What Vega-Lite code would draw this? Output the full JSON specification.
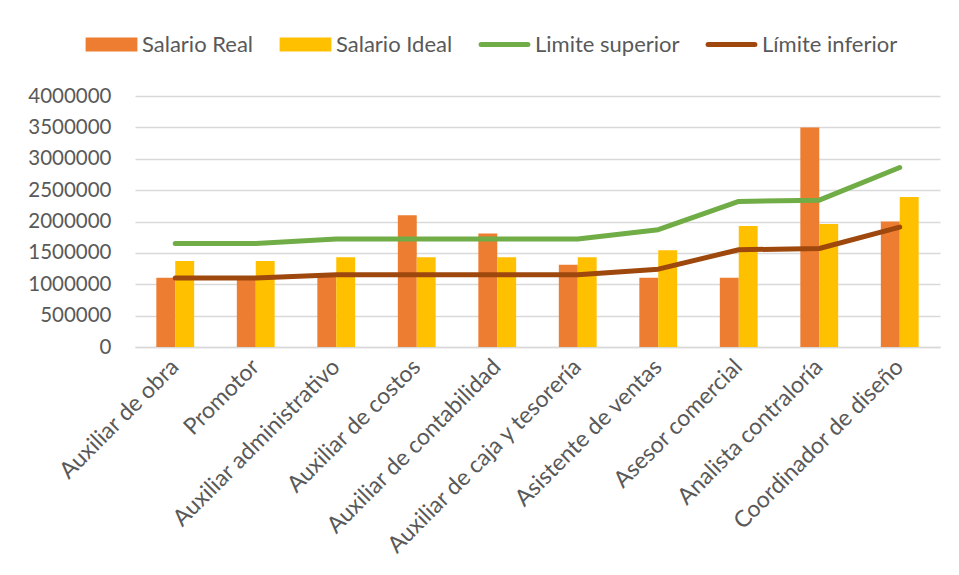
{
  "$schema": "https://vega.github.io/schema/vega-lite/v6.json",
  "width": 805,
  "height": 251,
  "autosize": {"type": "none"},
  "padding": {"left": 135, "top": 96, "right": 19, "bottom": 228},
  "background": "white",
  "config": {"view": {"stroke": null}, "font": "Lato"},
  "data": {"values": [
    {"puesto": "Auxiliar de obra", "serie": "Salario Real", "valor": 1104000},
    {"puesto": "Promotor", "serie": "Salario Real", "valor": 1104000},
    {"puesto": "Auxiliar administrativo", "serie": "Salario Real", "valor": 1150000},
    {"puesto": "Auxiliar de costos", "serie": "Salario Real", "valor": 2100000},
    {"puesto": "Auxiliar de contabilidad", "serie": "Salario Real", "valor": 1810000},
    {"puesto": "Auxiliar de caja y tesorería", "serie": "Salario Real", "valor": 1310000},
    {"puesto": "Asistente de ventas", "serie": "Salario Real", "valor": 1104000},
    {"puesto": "Asesor comercial", "serie": "Salario Real", "valor": 1104000},
    {"puesto": "Analista contraloría", "serie": "Salario Real", "valor": 3500000},
    {"puesto": "Coordinador de diseño", "serie": "Salario Real", "valor": 2000000},
    {"puesto": "Auxiliar de obra", "serie": "Salario Ideal", "valor": 1370000},
    {"puesto": "Promotor", "serie": "Salario Ideal", "valor": 1370000},
    {"puesto": "Auxiliar administrativo", "serie": "Salario Ideal", "valor": 1430000},
    {"puesto": "Auxiliar de costos", "serie": "Salario Ideal", "valor": 1430000},
    {"puesto": "Auxiliar de contabilidad", "serie": "Salario Ideal", "valor": 1430000},
    {"puesto": "Auxiliar de caja y tesorería", "serie": "Salario Ideal", "valor": 1430000},
    {"puesto": "Asistente de ventas", "serie": "Salario Ideal", "valor": 1540000},
    {"puesto": "Asesor comercial", "serie": "Salario Ideal", "valor": 1930000},
    {"puesto": "Analista contraloría", "serie": "Salario Ideal", "valor": 1960000},
    {"puesto": "Coordinador de diseño", "serie": "Salario Ideal", "valor": 2390000},
    {"puesto": "Auxiliar de obra", "serie": "Limite superior", "valor": 1650000},
    {"puesto": "Promotor", "serie": "Limite superior", "valor": 1650000},
    {"puesto": "Auxiliar administrativo", "serie": "Limite superior", "valor": 1720000},
    {"puesto": "Auxiliar de costos", "serie": "Limite superior", "valor": 1720000},
    {"puesto": "Auxiliar de contabilidad", "serie": "Limite superior", "valor": 1720000},
    {"puesto": "Auxiliar de caja y tesorería", "serie": "Limite superior", "valor": 1720000},
    {"puesto": "Asistente de ventas", "serie": "Limite superior", "valor": 1870000},
    {"puesto": "Asesor comercial", "serie": "Limite superior", "valor": 2320000},
    {"puesto": "Analista contraloría", "serie": "Limite superior", "valor": 2340000},
    {"puesto": "Coordinador de diseño", "serie": "Limite superior", "valor": 2860000},
    {"puesto": "Auxiliar de obra", "serie": "Límite inferior", "valor": 1100000},
    {"puesto": "Promotor", "serie": "Límite inferior", "valor": 1100000},
    {"puesto": "Auxiliar administrativo", "serie": "Límite inferior", "valor": 1150000},
    {"puesto": "Auxiliar de costos", "serie": "Límite inferior", "valor": 1150000},
    {"puesto": "Auxiliar de contabilidad", "serie": "Límite inferior", "valor": 1150000},
    {"puesto": "Auxiliar de caja y tesorería", "serie": "Límite inferior", "valor": 1150000},
    {"puesto": "Asistente de ventas", "serie": "Límite inferior", "valor": 1240000},
    {"puesto": "Asesor comercial", "serie": "Límite inferior", "valor": 1550000},
    {"puesto": "Analista contraloría", "serie": "Límite inferior", "valor": 1570000},
    {"puesto": "Coordinador de diseño", "serie": "Límite inferior", "valor": 1910000}
  ]},
  "encoding": {
    "x": {
      "field": "puesto", "type": "nominal", "sort": null,
      "scale": {"paddingInner": 0.53, "paddingOuter": 0.265},
      "axis": {
        "title": null, "labelAngle": -45, "labelAlign": "right", "labelBaseline": "middle",
        "labelFont": "Lato", "labelFontSize": 23, "labelColor": "#595959", "labelPadding": 16,
        "ticks": false, "domainColor": "#D9D9D9", "domainWidth": 1.5, "grid": false, "labelLimit": 400
      }
    },
    "y": {
      "field": "valor", "type": "quantitative",
      "scale": {"domain": [0, 4000000], "nice": false},
      "axis": {
        "title": null, "values": [0, 500000, 1000000, 1500000, 2000000, 2500000, 3000000, 3500000, 4000000],
        "format": "d", "labelFont": "Lato", "labelFontSize": 20.5, "labelColor": "#595959",
        "ticks": false, "domain": false, "gridColor": "#D9D9D9", "gridWidth": 1.5, "labelPadding": 24
      }
    },
    "color": {
      "field": "serie", "type": "nominal",
      "scale": {
        "domain": ["Salario Real", "Salario Ideal", "Limite superior", "Límite inferior"],
        "range": ["#ED7D31", "#FFC000", "#70AD47", "#9E480E"]
      },
      "legend": {
        "orient": "none", "legendX": -52, "legendY": -80, "direction": "horizontal", "title": null,
        "symbolSize": 2704, "labelFont": "Lato", "labelFontSize": 22, "labelColor": "#595959",
        "labelOffset": 2, "columnPadding": 18, "symbolStrokeWidth": 5,
        "encode": {
          "symbols": {
            "update": {
              "shape": {"signal": "(datum.value == 'Salario Real' || datum.value == 'Salario Ideal') ? 'M-0.9,-0.17H0.9V0.17H-0.9Z' : 'M-0.9,-0.17M-0.9,0H0.9M0.9,0.17'"},
              "fill": {"signal": "(datum.value == 'Salario Real' || datum.value == 'Salario Ideal') ? scale('color', datum.value) : 'transparent'"},
              "stroke": {"signal": "scale('color', datum.value)"},
              "strokeWidth": {"value": 5},
              "strokeCap": {"value": "round"},
              "strokeJoin": {"value": "miter"},
              "opacity": {"value": 1}
            }
          }
        }
      }
    }
  },
  "layer": [
    {
      "transform": [{"filter": "datum.serie == 'Salario Real' || datum.serie == 'Salario Ideal'"}],
      "mark": {"type": "bar"},
      "encoding": {
        "xOffset": {"field": "serie", "type": "nominal", "sort": ["Salario Real", "Salario Ideal"], "scale": {"paddingInner": 0, "paddingOuter": 0}}
      }
    },
    {
      "transform": [{"filter": "datum.serie == 'Limite superior' || datum.serie == 'Límite inferior'"}],
      "mark": {"type": "line", "strokeWidth": 5, "strokeCap": "round", "strokeJoin": "round"},
      "encoding": {}
    }
  ]
}
